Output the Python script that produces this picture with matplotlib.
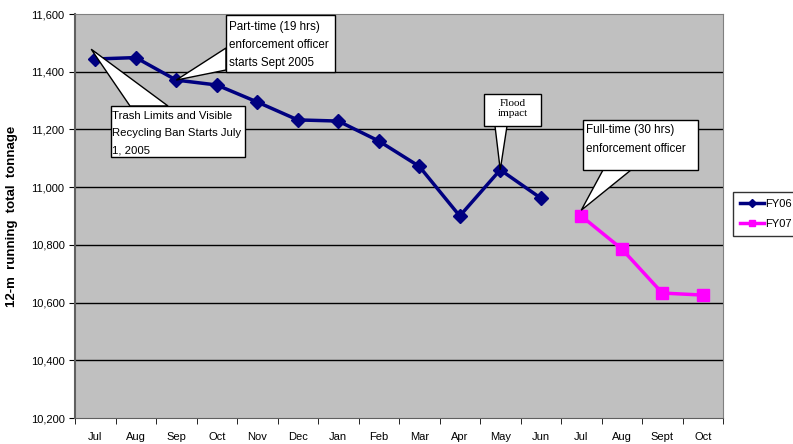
import matplotlib
matplotlib.use("Agg")
import matplotlib.pyplot as plt
from matplotlib.lines import Line2D
from matplotlib.patches import Polygon, Rectangle
from matplotlib.transforms import IdentityTransform

plt.rcParams['font.family'] = ['Liberation Sans', 'DejaVu Sans']

months = ["Jul", "Aug", "Sep", "Oct", "Nov", "Dec", "Jan", "Feb", "Mar", "Apr",
          "May", "Jun", "Jul", "Aug", "Sept", "Oct"]
fy06 = [11444, 11449, 11371, 11354, 11295, 11233, 11229, 11160, 11072, 10900,
        11060, 10962]
fy07 = [10900, 10786, 10633, 10626]
yticks = [10200, 10400, 10600, 10800, 11000, 11200, 11400, 11600]

W, H = 793, 444
fig = plt.figure(figsize=(W / 100, H / 100), dpi=100)
ax = fig.add_axes([75 / W, 26 / H, 648 / W, 404 / H])
ax.set_facecolor('#C0C0C0')

x06 = list(range(len(fy06)))
x07 = list(range(len(fy06), len(fy06) + len(fy07)))

ax.set_xlim(-0.5, len(months) - 0.5)
ax.set_ylim(10200, 11600)
ax.set_yticks(yticks)
ax.set_yticklabels([f"{v:,}" for v in yticks], fontsize=8)
ax.set_xticks(range(len(months)))
ax.set_xticklabels(months, fontsize=8)
ax.tick_params(axis='x', which='major', length=0, pad=10)
ax.set_xticks([i - 0.5 for i in range(len(months) + 1)], minor=True)
ax.tick_params(axis='x', which='minor', length=4, color='black')
ax.tick_params(axis='y', length=4, color='black')

for v in yticks[1:-1]:
    ax.axhline(v, color='black', lw=1, zorder=1)

for s in ['top', 'right']:
    ax.spines[s].set_color('#808080')
ax.spines['left'].set_color('#606060')
ax.spines['bottom'].set_color('#606060')
ax.spines['left'].set_linewidth(1.5)

ax.plot(x06, fy06, color='#000080', lw=2.5, marker='D', ms=7.5, zorder=3, label='FY06')
ax.plot(x07, fy07, color='#FF00FF', lw=2.5, marker='s', ms=8.5, zorder=3, label='FY07')

ax.set_ylabel("12-m  running  total  tonnage", fontsize=9.5, fontweight='bold')
ax.yaxis.set_label_coords(-(75 - 18) / 648, 0.5)

fig.canvas.draw()
ident = IdentityTransform()


def px(x, y):
    """figure pixel (from top-left) -> display coords"""
    return (x, H - y)


def callout(tip_data, base, box, lines, text_xy, fs, family, ha='left', lsp=1.5):
    tip = ax.transData.transform(tip_data)
    poly = Polygon([tip, px(*base[0]), px(*base[1])], closed=True,
                   fc='white', ec='black', lw=1, transform=ident, zorder=6)
    fig.add_artist(poly)
    x0, y0, x1, y1 = box
    rect = Rectangle(px(x0, y1), x1 - x0, y1 - y0, fc='white', ec='black',
                     lw=1, transform=ident, zorder=7)
    fig.add_artist(rect)
    t = fig.text(text_xy[0] / W, 1 - text_xy[1] / H, lines, fontsize=fs,
                 family=family, ha=ha, va='top', linespacing=lsp, zorder=8)
    t.set_clip_path(rect)


SANS = ['Liberation Sans']
callout((2, fy06[2]), [(226, 48), (226, 70)], (226, 15, 335, 72),
        "Part-time (19 hrs)\nenforcement officer\nstarts Sept 2005",
        (228.5, 21), 8.4, SANS, lsp=1.65)
callout((-0.1, 11478), [(130, 106), (168, 106)], (111, 106, 245, 157),
        "Trash Limits and Visible\nRecycling Ban Starts July\n1, 2005",
        (112.5, 111), 8.2, SANS, lsp=1.9)
callout((10, fy06[10]), [(495, 126), (507, 126)], (484, 94, 541, 126),
        "Flood\nimpact", (513, 99), 8, ['Liberation Serif'], ha='center', lsp=1.1)
callout((12, 10920), [(603, 170), (631, 170)], (583, 120, 698, 170),
        "Full-time (30 hrs)\nenforcement officer",
        (585.5, 124), 8.4, SANS, lsp=1.75)

handles = [Line2D([0], [0], color='#000080', lw=2.5, marker='D', ms=4),
           Line2D([0], [0], color='#FF00FF', lw=2.5, marker='s', ms=5)]
leg = fig.legend(handles, ['FY06', 'FY07'], loc='center left',
                 bbox_to_anchor=(733 / W, 1 - 214 / H), fontsize=8,
                 frameon=True, fancybox=False, edgecolor='black',
                 handlelength=2.2, handletextpad=0.1, borderpad=0.6,
                 borderaxespad=0, labelspacing=0.9)
leg.get_frame().set_linewidth(1)

fig.savefig("out.png", dpi=100, facecolor='white')
